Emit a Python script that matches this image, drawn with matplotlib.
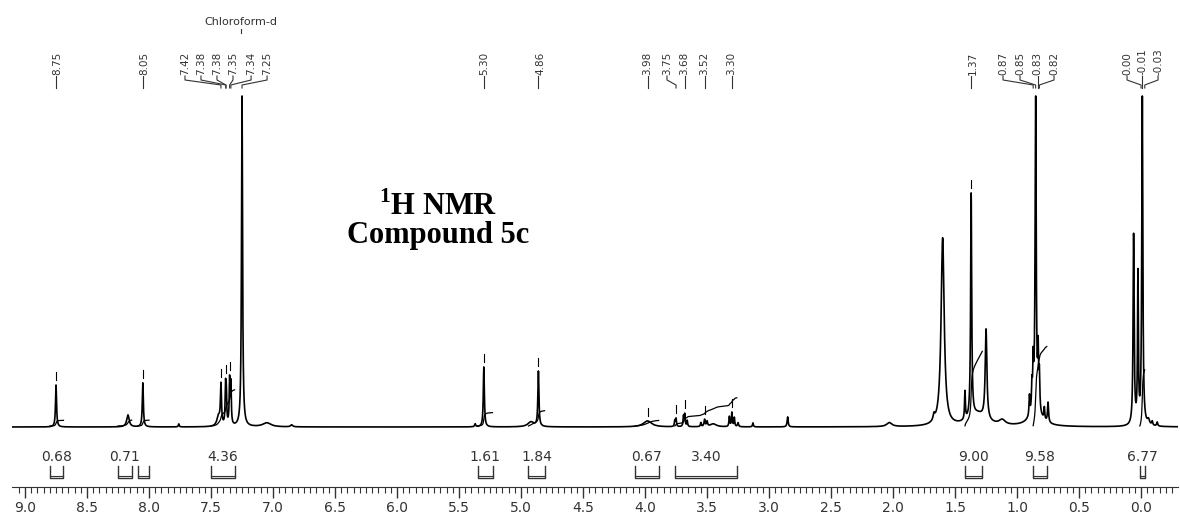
import numpy as np
import matplotlib.pyplot as plt

plt.rcParams['mathtext.fontset'] = 'custom'
plt.rcParams['mathtext.rm'] = 'Liberation Serif'
plt.rcParams['mathtext.bf'] = 'Liberation Serif:bold'

# spectrum peaks: shift (ppm), height above baseline, half width (ppm)
peak_ppm = [8.75, 8.17, 8.05, 7.76, 7.44, 7.42, 7.383, 7.377, 7.35, 7.34, 7.25, 7.05, 6.85,
            5.37, 5.30, 4.92, 4.86, 3.98, 3.76, 3.75, 3.69, 3.68, 3.66, 3.55, 3.52, 3.50, 3.45,
            3.32, 3.30, 3.28, 3.25, 3.13, 2.85, 2.03, 1.67, 1.60, 1.42, 1.37, 1.32, 1.25, 1.12,
            0.90, 0.88, 0.87, 0.85, 0.83, 0.82, 0.85, 0.78, 0.75, 0.06, 0.025, -0.01, -0.06,
            -0.09, -0.13]
peak_height = [42, 12, 44, 3, 10, 40, 36, 30, 44, 40, 331, 4, 2,
               3, 60, 5, 55, 6, 6, 8, 10, 12, 6, 4, 7, 5, 3,
               10, 14, 9, 4, 4, 10, 4, 6, 188, 28, 224, 12, 90, 5,
               20, 25, 45, 331, 55, 35, 12, 12, 20, 190, 148, 331, 5,
               4, 4]
peak_width = [0.005, 0.012, 0.005, 0.004, 0.015, 0.005, 0.004, 0.004, 0.004, 0.004, 0.005, 0.04, 0.01,
              0.005, 0.005, 0.03, 0.005, 0.04, 0.004, 0.004, 0.004, 0.004, 0.004, 0.004, 0.005, 0.005, 0.03,
              0.004, 0.004, 0.004, 0.005, 0.004, 0.005, 0.025, 0.008, 0.015, 0.004, 0.005, 0.08, 0.008, 0.03,
              0.004, 0.004, 0.004, 0.005, 0.004, 0.004, 0.06, 0.004, 0.005, 0.005, 0.004, 0.005, 0.01,
              0.005, 0.005]

# peak picking labels
peak_labels = ['8.75', '8.05', '7.42', '7.38', '7.38', '7.35', '7.34', '7.25', '5.30', '4.86',
               '3.98', '3.75', '3.68', '3.52', '3.30', '1.37', '0.87', '0.85', '0.83', '0.82',
               '0.00', '-0.01', '-0.03']
marked_peaks = [8.75, 8.05, 7.42, 7.38, 7.35, 5.30, 4.86, 3.98, 3.75, 3.68, 3.52, 3.30, 1.37]

# integrals
int_start = [8.80, 8.25, 8.09, 7.50, 5.35, 4.94, 4.08, 3.76, 1.42, 0.87, 0.01]
int_end = [8.69, 8.14, 8.00, 7.31, 5.23, 4.81, 3.89, 3.26, 1.28, 0.76, -0.03]
int_value = [0.68, 0.71, 0.70, 4.36, 1.61, 1.84, 0.67, 3.40, 9.00, 9.58, 6.77]
int_labels = ['0.68', '0.71', '', '4.36', '1.61', '1.84', '0.67', '3.40', '9.00', '9.58', '6.77']

# layout: where the rotated labels sit (ppm)
label_pos = [8.742, 8.040, 7.710, 7.581, 7.452, 7.323, 7.177, 7.048, 5.298, 4.847,
             3.984, 3.823, 3.685, 3.524, 3.306, 1.355, 1.113, 0.976, 0.839, 0.702,
             0.113, -0.008, -0.137]

BASE = 60
TOP = 391
ink = '#333333'

x = np.linspace(9.105, -0.298, 30000)
spec = np.full_like(x, BASE, dtype=float)
for p, h, w in zip(peak_ppm, peak_height, peak_width):
    spec += h / (1 + ((x - p) / w) ** 2)
spec = np.minimum(spec, TOP)

fig = plt.figure(figsize=(11.8, 5.16), dpi=100)
ax = fig.add_axes([12 / 1180, 29 / 516, 1166 / 1180, 487 / 516])
ax.set_xlim(9.105, -0.298)
ax.set_ylim(0, 487)

ax.plot(x, spec, color='black', lw=1.2)

# integral curves and brackets
for s, e, v, lab in zip(int_start, int_end, int_value, int_labels):
    m = (x <= s) & (x >= e)
    cum = np.cumsum(spec[m] - BASE)
    ax.plot(x[m], BASE + 1 + cum / cum[-1] * v * 8.3, color='black', lw=0.9)
    ax.plot([s, s, e, e], [21, 9, 9, 21], color=ink, lw=1.0)
    ax.plot([s, e], [11.5, 11.5], color=ink, lw=0.8)
    if lab:
        ax.text((s + e) / 2, 30, lab, ha='center', va='center', fontsize=10, color=ink)

# peak markers
for p in marked_peaks:
    near = (x <= p + 0.012) & (x >= p - 0.012)
    top = spec[near].max()
    ax.plot([p, p], [top + 5, top + 13], color='black', lw=0.8)

# peak labels with connectors
for lab, pos in zip(peak_labels, label_pos):
    val = float(lab)
    ax.text(pos, 412, lab, rotation=90, ha='center', va='bottom', fontsize=7.5, color=ink)
    if abs(pos - val) < 0.02:
        ax.plot([val, val], [411, 399], color=ink, lw=0.8)
    else:
        ax.plot([pos, pos, val, val], [411, 407, 402, 399], color=ink, lw=0.8)

ax.text(7.26, 465, 'Chloroform-d', ha='center', va='center', fontsize=8, color=ink)
ax.plot([7.26, 7.26], [458, 454], color=ink, lw=0.8)

# title
ax.text(5.669, 272, r'$^{\mathbf{1}}$H NMR', ha='center', va='baseline', fontsize=22,
        fontfamily='Liberation Serif', fontweight='bold')
ax.text(5.669, 244, 'Compound 5c', ha='center', va='baseline', fontsize=22,
        fontfamily='Liberation Serif', fontweight='bold')

for sp in ['top', 'left', 'right']:
    ax.spines[sp].set_visible(False)
ax.spines['bottom'].set_color(ink)
ax.set_yticks([])
ax.set_xticks(np.arange(0, 9.01, 0.5))
ax.set_xticks(np.arange(-0.25, 9.1, 0.05), minor=True)
ax.set_xticklabels(['%.1f' % t for t in np.arange(0, 9.01, 0.5)])
ax.tick_params(axis='x', which='major', length=8, width=1, colors=ink, labelsize=10, pad=2)
ax.tick_params(axis='x', which='minor', length=4, width=0.8, colors=ink)

fig.savefig('out.png', dpi=100)
